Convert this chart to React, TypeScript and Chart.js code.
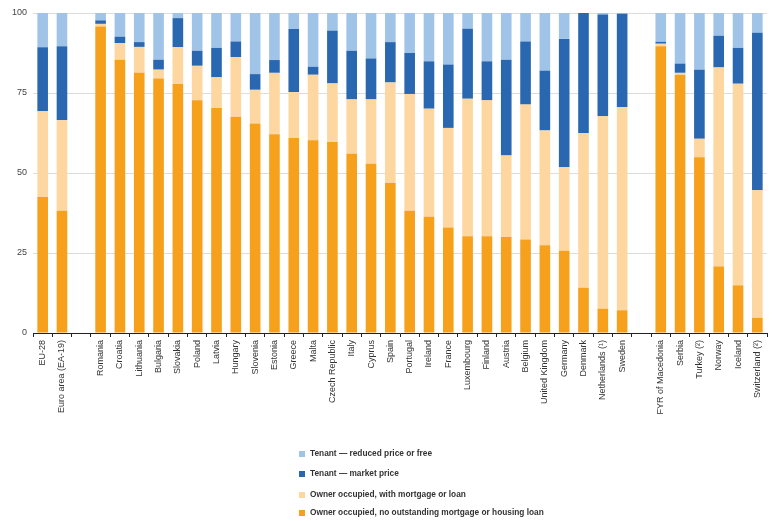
import React, { useEffect, useRef } from "react";
import { Chart, registerables } from "chart.js";

Chart.register(...registerables);

const categories = [
  "EU-28", "Euro area (EA-19)", "",
  "Romania", "Croatia", "Lithuania", "Bulgaria", "Slovakia", "Poland", "Latvia", "Hungary",
  "Slovenia", "Estonia", "Greece", "Malta", "Czech Republic", "Italy", "Cyprus", "Spain",
  "Portugal", "Ireland", "France", "Luxembourg", "Finland", "Austria", "Belgium",
  "United Kingdom", "Germany", "Denmark", "Netherlands (¹)", "Sweden", "",
  "FYR of Macedonia", "Serbia", "Turkey (²)", "Norway", "Iceland", "Switzerland (²)",
];

const ownerNoLoan = [
  42.5, 38.2, null,
  95.8, 85.4, 81.3, 79.5, 77.8, 72.7, 70.3, 67.6,
  65.5, 62.1, 60.9, 60.2, 59.7, 56.0, 52.9, 46.9,
  38.2, 36.3, 33.0, 30.2, 30.2, 30.0, 29.2,
  27.4, 25.7, 14.1, 7.6, 7.1, null,
  89.6, 80.7, 54.9, 20.8, 14.9, 4.7,
];

const ownerMortgage = [
  26.8, 28.3, null,
  0.8, 5.2, 8.1, 2.8, 11.5, 10.8, 9.6, 18.6,
  10.5, 19.2, 14.4, 20.5, 18.3, 17.0, 20.1, 31.4,
  36.5, 33.8, 31.1, 43.0, 42.5, 25.5, 42.2,
  35.9, 26.1, 48.4, 60.1, 63.5, null,
  0.8, 0.6, 5.8, 62.2, 63.0, 39.9,
];

const tenantMarket = [
  20.0, 23.1, null,
  1.1, 2.0, 1.5, 3.1, 9.1, 4.7, 9.2, 4.9,
  4.9, 4.0, 19.7, 2.5, 16.5, 15.2, 12.8, 12.6,
  12.8, 14.8, 19.8, 21.9, 12.2, 29.9, 19.7,
  18.7, 40.1, 37.5, 31.8, 29.2, null,
  0.6, 2.9, 21.6, 9.9, 11.2, 49.2,
];

const tenantReduced = [
  10.7, 10.4, null,
  2.3, 7.4, 9.1, 14.6, 1.6, 11.8, 10.9, 8.9,
  19.1, 14.7, 5.0, 16.8, 5.5, 11.8, 14.2, 9.1,
  12.5, 15.1, 16.1, 4.9, 15.1, 14.6, 8.9,
  18.0, 8.1, 0.0, 0.5, 0.2, null,
  9.0, 15.8, 17.7, 7.1, 10.9, 6.2,
];

const yTicks = [0, 25, 50, 75, 100];

const seriesNames = [
  "Owner occupied, no outstanding mortgage or housing loan",
  "Owner occupied, with mortgage or loan",
  "Tenant — market price",
  "Tenant — reduced price or free",
];

const seriesColors = ["#f6a01c", "#fdd6a0", "#2a67b1", "#a0c4e8"];

const FONT = "'Liberation Sans', Arial, sans-serif";

export default function App() {
  const ref = useRef<HTMLCanvasElement | null>(null);

  useEffect(() => {
    if (!ref.current) return;
    const chart = new Chart(ref.current, {
      type: "bar",
      data: {
        labels: categories,
        datasets: [ownerNoLoan, ownerMortgage, tenantMarket, tenantReduced].map((d, i) => ({
          label: seriesNames[i],
          data: d,
          backgroundColor: seriesColors[i],
          borderWidth: 0,
          barPercentage: 0.55,
          categoryPercentage: 1,
        })),
      },
      options: {
        animation: false,
        responsive: true,
        maintainAspectRatio: false,
        layout: { padding: { top: 13, right: 10, left: 0, bottom: 0 } },
        plugins: {
          legend: { display: false },
          tooltip: { enabled: false },
        },
        scales: {
          x: {
            stacked: true,
            afterFit: (scale: any) => {
              scale.height = 188;
            },
            border: { display: true, color: "#222", width: 1 },
            grid: {
              display: true,
              offset: true,
              drawOnChartArea: false,
              drawTicks: true,
              tickLength: 4,
              color: "#222",
            },
            ticks: {
              autoSkip: false,
              minRotation: 90,
              maxRotation: 90,
              padding: 3,
              color: "#333",
              font: { family: FONT, size: 9 },
            },
          },
          y: {
            stacked: true,
            min: 0,
            max: 100,
            afterFit: (scale: any) => {
              scale.width = 33;
            },
            afterBuildTicks: (scale: any) => {
              scale.ticks = yTicks.map((v) => ({ value: v }));
            },
            border: { display: false },
            grid: { color: "#dddddd", drawTicks: false, lineWidth: 1 },
            ticks: {
              padding: 6,
              color: "#444",
              font: { family: FONT, size: 9 },
            },
          },
        },
      },
    });
    return () => chart.destroy();
  }, []);

  const legendOrder = [3, 2, 1, 0];
  const legendTops = [448, 468, 489, 507];

  return (
    <div style={{ position: "fixed", left: 0, top: 0, width: 777, height: 521, background: "#fff" }}>
      <canvas ref={ref} />
      {legendOrder.map((si, k) => (
        <div
          key={si}
          style={{
            position: "absolute",
            left: 299,
            top: legendTops[k],
            display: "flex",
            alignItems: "center",
            fontFamily: FONT,
            fontSize: 8.3,
            fontWeight: "bold",
            color: "#333",
            whiteSpace: "nowrap",
            lineHeight: "11px",
          }}
        >
          <span
            style={{
              display: "inline-block",
              width: 6,
              height: 6,
              background: seriesColors[si],
              marginRight: 5,
            }}
          />
          <span>{seriesNames[si]}</span>
        </div>
      ))}
    </div>
  );
}
